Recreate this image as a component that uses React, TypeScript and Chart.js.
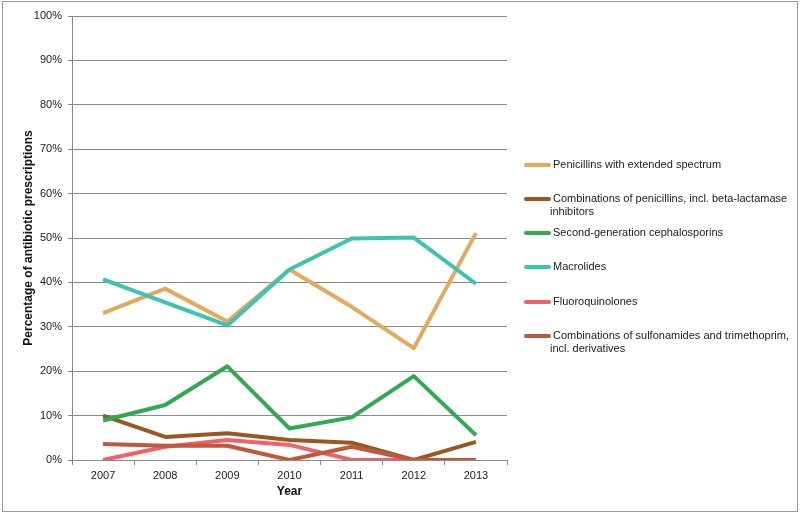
import React, { useEffect, useRef } from "react";
import { Chart, registerables } from "chart.js";

Chart.register(...registerables);

const years = ["2007", "2008", "2009", "2010", "2011", "2012", "2013"];

const penicillinsExtended = [33.1, 38.6, 31.2, 42.9, 34.5, 25.2, 51.1];
const penicillinCombinations = [10.0, 5.2, 6.0, 4.5, 3.9, 0.0, 4.1];
const secondGenCephalosporins = [8.9, 12.4, 21.1, 7.1, 9.6, 18.9, 5.6];
const macrolides = [40.7, 35.5, 30.3, 42.9, 49.9, 50.1, 39.7];
const fluoroquinolones = [0.0, 3.0, 4.5, 3.4, 0.0, 0.0, 0.0];
const sulfonamideCombinations = [3.6, 3.2, 3.2, 0.0, 3.0, 0.0, 0.0];

const seriesNames = [
  "Penicillins with extended spectrum",
  "Combinations of penicillins, incl. beta-lactamase inhibitors",
  "Second-generation cephalosporins",
  "Macrolides",
  "Fluoroquinolones",
  "Combinations of sulfonamides and trimethoprim, incl. derivatives",
];
const seriesColors = ["#E8A85A", "#9A581E", "#2FAA4C", "#3CC4B2", "#F2606A", "#C0583E"];
const seriesData = [
  penicillinsExtended,
  penicillinCombinations,
  secondGenCephalosporins,
  macrolides,
  fluoroquinolones,
  sulfonamideCombinations,
];

const FONT = "'Liberation Sans', Arial, sans-serif";

const legendPlugin = {
  id: "sideLegend",
  afterDraw(chart: any) {
    const ctx = chart.ctx;
    const itemY = [165, 199, 233, 267, 302, 336];
    const x0 = 526;
    const textX = 553;
    const maxW = 238;
    const lineH = 13;
    ctx.save();
    ctx.font = `11px ${FONT}`;
    ctx.textBaseline = "middle";
    ctx.textAlign = "left";
    chart.data.datasets.forEach((ds: any, i: number) => {
      const y = itemY[i];
      ctx.strokeStyle = ds.borderColor;
      ctx.lineWidth = 4;
      ctx.lineCap = "round";
      ctx.beginPath();
      ctx.moveTo(x0, y);
      ctx.lineTo(x0 + 23, y);
      ctx.stroke();
      const words = String(ds.label).split(" ");
      const lines: string[] = [];
      let cur = "";
      words.forEach((w) => {
        const test = cur ? cur + " " + w : w;
        if (ctx.measureText(test).width > maxW && cur) {
          lines.push(cur);
          cur = w;
        } else cur = test;
      });
      if (cur) lines.push(cur);
      ctx.fillStyle = "#222";
      lines.forEach((ln, k) => {
        ctx.fillText(ln, k === 0 ? textX : 550, y + k * lineH);
      });
    });
    ctx.restore();
  },
};

export default function App() {
  const ref = useRef<HTMLCanvasElement>(null);
  useEffect(() => {
    document.body.style.margin = "0";
    const chart = new Chart(ref.current!, {
      type: "line",
      data: {
        labels: years,
        datasets: seriesData.map((d, i) => ({
          label: seriesNames[i],
          data: d,
          borderColor: seriesColors[i],
          backgroundColor: seriesColors[i],
          borderWidth: 4,
          pointRadius: 0,
          tension: 0,
          borderJoinStyle: "round" as const,
          order: seriesData.length - i,
        })),
      },
      options: {
        animation: false,
        responsive: false,
        maintainAspectRatio: false,
        layout: { padding: { top: 16, right: 293, bottom: 0, left: 0 } },
        plugins: {
          legend: { display: false },
          tooltip: { enabled: false },
        },
        scales: {
          x: {
            offset: true,
            grid: {
              offset: true,
              drawOnChartArea: false,
              drawTicks: true,
              tickLength: 5,
              color: "#8a8a8a",
            },
            border: { color: "#8a8a8a", width: 1 },
            ticks: { color: "#222", font: { family: FONT, size: 11 }, padding: 4 },
            title: {
              display: true,
              text: "Year",
              color: "#111",
              font: { family: FONT, size: 12, weight: "bold" },
              padding: { top: 0, bottom: 15 },
            },
            afterFit(scale: any) {
              scale.height = 54;
            },
          },
          y: {
            min: 0,
            max: 100,
            ticks: {
              stepSize: 10,
              color: "#222",
              font: { family: FONT, size: 11 },
              padding: 6,
              callback: (v: any) => v + "%",
            },
            grid: { color: "#8a8a8a", lineWidth: 1, tickLength: 4 },
            border: { color: "#8a8a8a", width: 1 },
            title: {
              display: true,
              text: "Percentage of antibiotic prescriptions",
              color: "#111",
              font: { family: FONT, size: 12, weight: "bold" },
              padding: { top: 21, bottom: 0 },
            },
            afterFit(scale: any) {
              scale.width = 72;
            },
          },
        },
      },
      plugins: [legendPlugin],
    });
    return () => chart.destroy();
  }, []);
  return (
    <div style={{ position: "fixed", left: 0, top: 0, width: 800, height: 514, background: "#fff" }}>
      <canvas ref={ref} width={800} height={514} style={{ display: "block" }} />
      <div
        style={{
          position: "absolute",
          left: 2,
          top: 1,
          width: 794,
          height: 509,
          border: "1px solid #9a9a9a",
          pointerEvents: "none",
        }}
      />
    </div>
  );
}
